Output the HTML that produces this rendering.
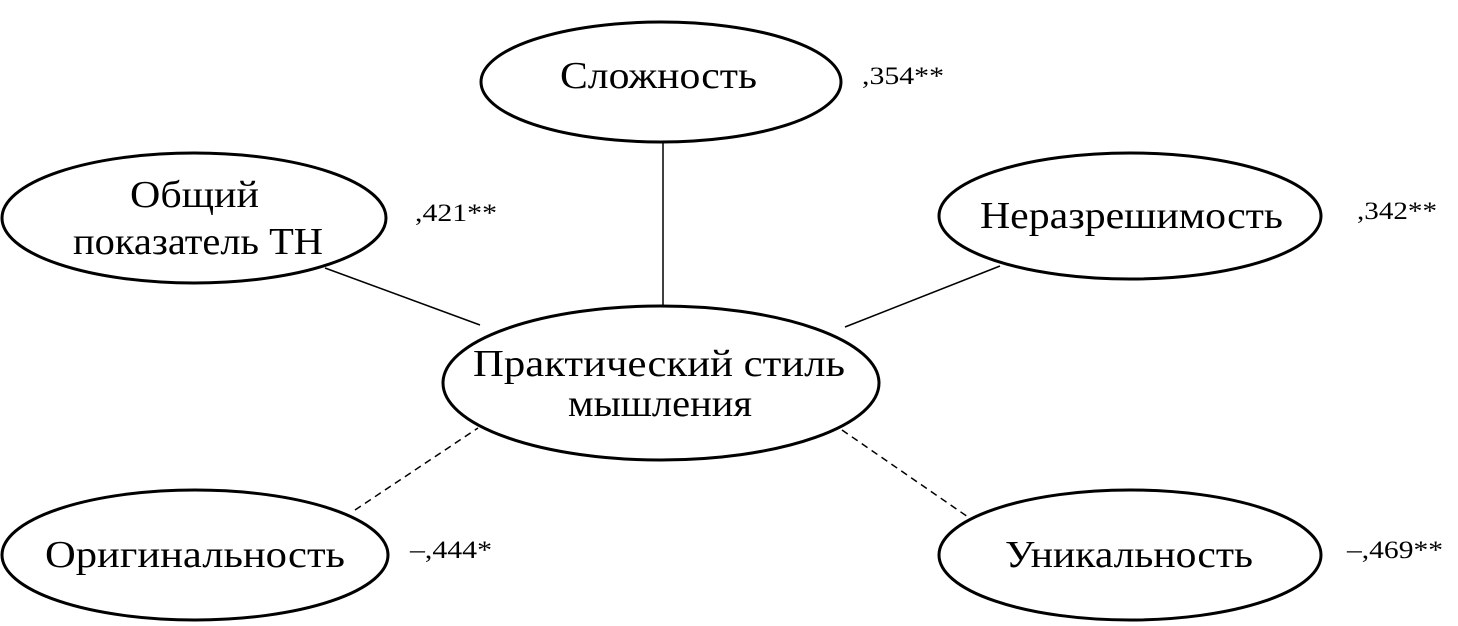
<!DOCTYPE html>
<html><head><meta charset="utf-8"><style>
html,body{margin:0;padding:0;background:#fff;}
svg{display:block;}
text{font-family:"Liberation Serif","DejaVu Serif",serif;fill:#000;}
</style></head><body>
<svg width="1458" height="626" viewBox="0 0 1458 626" xmlns="http://www.w3.org/2000/svg">
<g stroke="#000" stroke-width="1.5" fill="none">
<line x1="663" y1="143" x2="663" y2="307"/>
<line x1="325" y1="268" x2="480" y2="325"/>
<line x1="1000" y1="266" x2="845" y2="327"/>
<line x1="355" y1="510" x2="478" y2="428" stroke-dasharray="7,5"/>
<line x1="842" y1="430" x2="968" y2="517" stroke-dasharray="7,5"/>
</g>
<g stroke="#000" stroke-width="3" fill="#fff">
<ellipse cx="661" cy="82" rx="180" ry="60"/>
<ellipse cx="194" cy="218" rx="192" ry="65"/>
<ellipse cx="1130" cy="216" rx="191" ry="63"/>
<ellipse cx="661" cy="383" rx="218" ry="77"/>
<ellipse cx="195" cy="555" rx="193" ry="65"/>
<ellipse cx="1130" cy="555" rx="191" ry="65"/>
</g>
<g font-size="38" lengthAdjust="spacingAndGlyphs">
<text x="560" y="88" textLength="197" lengthAdjust="spacingAndGlyphs">Сложность</text>
<text x="130" y="207" textLength="129" lengthAdjust="spacingAndGlyphs">Общий</text>
<text x="73" y="254" textLength="250" lengthAdjust="spacingAndGlyphs">показатель ТН</text>
<text x="980" y="228" textLength="303" lengthAdjust="spacingAndGlyphs">Неразрешимость</text>
<text x="473" y="376" textLength="372" lengthAdjust="spacingAndGlyphs">Практический стиль</text>
<text x="568" y="416" textLength="184" lengthAdjust="spacingAndGlyphs">мышления</text>
<text x="45" y="567" textLength="300" lengthAdjust="spacingAndGlyphs">Оригинальность</text>
<text x="1005" y="567" textLength="248" lengthAdjust="spacingAndGlyphs">Уникальность</text>
</g>
<g font-size="25">
<text x="862" y="84" textLength="82" lengthAdjust="spacingAndGlyphs">,354**</text>
<text x="415" y="221" textLength="82" lengthAdjust="spacingAndGlyphs">,421**</text>
<text x="1357" y="219" textLength="80" lengthAdjust="spacingAndGlyphs">,342**</text>
<text x="410" y="558" textLength="82" lengthAdjust="spacingAndGlyphs">–,444*</text>
<text x="1347" y="558" textLength="96" lengthAdjust="spacingAndGlyphs">–,469**</text>
</g>
</svg>
</body></html>
